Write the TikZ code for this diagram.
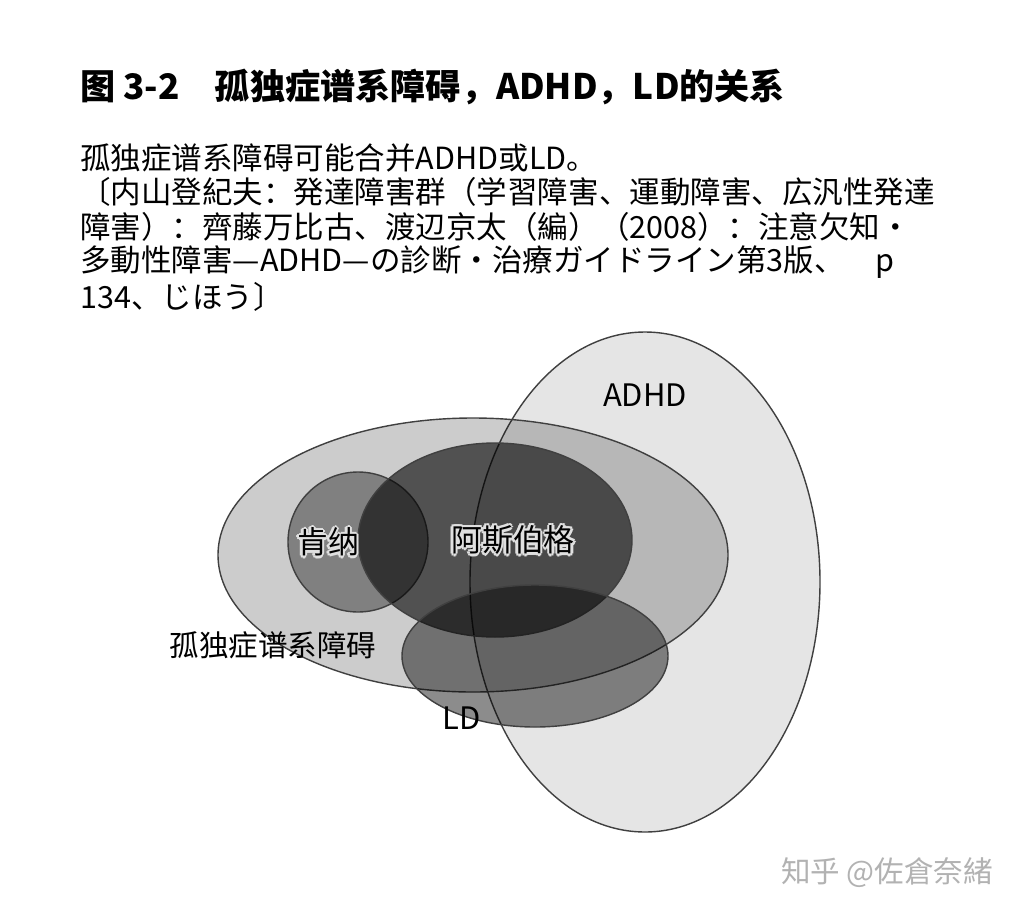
\documentclass[tikz,border=0pt]{standalone}
\usepackage{fontspec}
\setmainfont{Noto Sans CJK SC}
\newfontfamily\cjk{Noto Sans CJK SC}
\begin{document}
\begin{tikzpicture}[x=0.025cm,y=-0.025cm,
  ell/.style={draw=black!75,line width=1pt,fill=black},
  body/.style={anchor=west,font=\fontsize{21.7}{24}\selectfont,inner sep=0pt},
  lbl/.style={font=\fontsize{22}{24}\selectfont,inner sep=0pt}]
\useasboundingbox[fill=white] (0,0) rectangle (1020,915);
\node[anchor=west,inner sep=0pt,font=\fontsize{25}{28}\selectfont\bfseries] (title) at (80,87) {图 3-2\quad 孤独症谱系障碍，ADHD，LD的关系};
\node[body] (l1) at (80,158) {孤独症谱系障碍可能合并ADHD或LD。};
\node[body] (l2) at (80,192) {〔内山登紀夫：発達障害群（学習障害、運動障害、広汎性発達};
\node[body] (l3) at (80,227) {障害）：齊藤万比古、渡辺京太（編）（2008）：注意欠知・};
\node[body] (l4) at (80,262) {多動性障害—ADHD—の診断・治療ガイドライン第3版、　p};
\node[body] (l5) at (80,297) {134、じほう〕};
\path[ell,fill opacity=0.1] (645,582) ellipse [x radius=175,y radius=250];
\path[ell,fill opacity=0.2] (473,555) ellipse [x radius=255,y radius=137];
\path[ell,fill opacity=0.37] (358,542) ellipse [x radius=70,y radius=70];
\path[ell,fill opacity=0.6] (495,540) ellipse [x radius=137,y radius=97];
\path[ell,fill opacity=0.45] (535,656) ellipse [x radius=133,y radius=71];
\node[lbl] (adhd) at (645,395) {ADHD};
\node[lbl,font=\fontsize{21}{24}\selectfont] (asd) at (273,645) {孤独症谱系障碍};
\node[lbl] (ld) at (462,718) {LD};
\foreach \t/\p in {肯纳/{(328,542)},阿斯伯格/{(513,540)}}{
  \foreach \dx/\dy in {3/0,-3/0,0/3,0/-3,2/2,-2/2,2/-2,-2/-2}{
    \node[lbl,text=white!88!black,xshift=\dx*0.6pt,yshift=\dy*0.6pt] at \p {\t};}
  \node[lbl] at \p {\t};}
\node[font=\fontsize{21}{24}\selectfont,text=black!30,inner sep=0pt] (wm) at (887,873) {知乎 @佐倉奈緒};
\end{tikzpicture}
\end{document}
